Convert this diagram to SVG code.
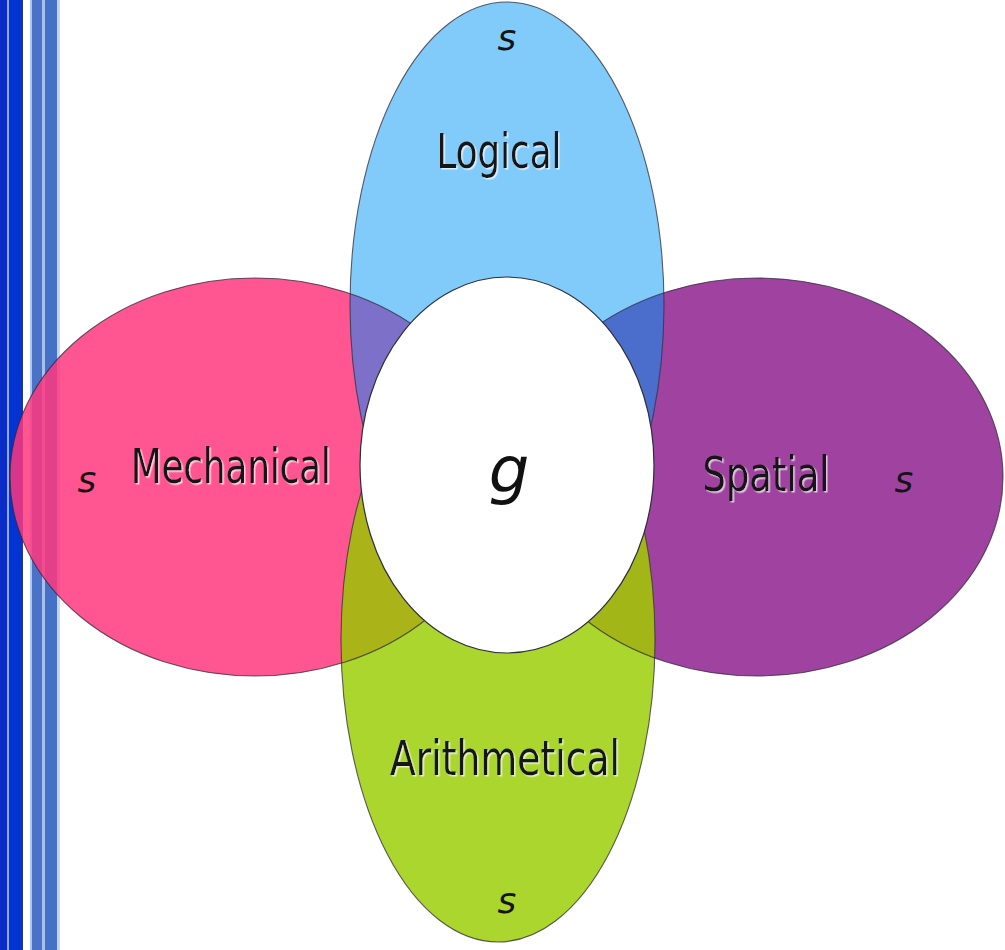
<svg xmlns="http://www.w3.org/2000/svg" width="1005" height="950" viewBox="0 0 1005 950">
<style>
.lbl{font-family:"DejaVu Sans","Liberation Sans",sans-serif;font-size:48px;fill:#141414;text-anchor:middle;filter:url(#sh)}
.s{font-family:"DejaVu Sans","Liberation Sans",sans-serif;font-style:italic;font-size:36px;fill:#141414;text-anchor:middle}
.edge{fill:none;stroke:#2e2a3a;stroke-width:1.1;stroke-opacity:0.75}
</style>
<defs>
<filter id="sh" x="-10%" y="-20%" width="130%" height="150%">
<feDropShadow dx="1.5" dy="1.5" stdDeviation="0.6" flood-color="#ffffff" flood-opacity="0.7"/>
</filter>
<clipPath id="clipBlue"><ellipse cx="507" cy="305" rx="157" ry="303"/></clipPath>
<clipPath id="clipGreen"><ellipse cx="498" cy="640" rx="157" ry="302"/></clipPath>
</defs>
<rect width="1005" height="950" fill="#ffffff"/>
<g id="stripes">
<rect x="0" y="0" width="7" height="950" fill="#0a2cc6"/>
<rect x="7" y="0" width="2" height="950" fill="#8fa8f0"/>
<rect x="9" y="0" width="13" height="950" fill="#0333d0"/>
<rect x="22" y="0" width="1" height="950" fill="#2a3a8a"/>
<rect x="30" y="0" width="2" height="950" fill="#b0c4f0"/>
<rect x="32" y="0" width="10" height="950" fill="#4a72c6"/>
<rect x="42" y="0" width="3" height="950" fill="#a8bff0"/>
<rect x="45" y="0" width="12" height="950" fill="#4570c8"/>
<rect x="57" y="0" width="3" height="950" fill="#c4d4f6"/>
</g>
<g id="mechanical">
<ellipse cx="255" cy="477" rx="245" ry="199" fill="#ff377e" fill-opacity="0.85"/>
</g>
<g id="spatial">
<ellipse cx="757" cy="477" rx="246" ry="199" fill="#a043a0"/>
</g>
<g id="logical">
<ellipse cx="507" cy="305" rx="157" ry="303" fill="#80cbfa"/>
</g>
<g id="arithmetical">
<ellipse cx="498" cy="640" rx="157" ry="302" fill="#aad62d"/>
</g>
<g id="overlaps">
<ellipse cx="255" cy="477" rx="245" ry="199" fill="#7c70c8" clip-path="url(#clipBlue)"/>
<ellipse cx="757" cy="477" rx="246" ry="199" fill="#4b6dcb" clip-path="url(#clipBlue)"/>
<ellipse cx="255" cy="477" rx="245" ry="199" fill="#aab418" clip-path="url(#clipGreen)"/>
<ellipse cx="757" cy="477" rx="246" ry="199" fill="#a2b617" clip-path="url(#clipGreen)"/>
</g>
<g id="edges">
<ellipse class="edge" cx="255" cy="477" rx="245" ry="199"/>
<ellipse class="edge" cx="757" cy="477" rx="246" ry="199"/>
<ellipse class="edge" cx="507" cy="305" rx="157" ry="303"/>
<ellipse class="edge" cx="498" cy="640" rx="157" ry="302"/>
</g>
<g id="g-core">
<ellipse cx="507" cy="465" rx="147" ry="188" fill="#ffffff" stroke="#2e2e3a" stroke-width="1.2"/>
<text x="509" y="492" font-family="DejaVu Sans, sans-serif" font-style="italic" font-size="64" fill="#111" text-anchor="middle">g</text>
</g>
<g id="labels">
<text class="lbl" x="499" y="168" textLength="125" lengthAdjust="spacingAndGlyphs">Logical</text>
<text class="lbl" x="231" y="483" textLength="200" lengthAdjust="spacingAndGlyphs">Mechanical</text>
<text class="lbl" x="766" y="491" textLength="127" lengthAdjust="spacingAndGlyphs">Spatial</text>
<text class="lbl" x="505" y="775" textLength="230" lengthAdjust="spacingAndGlyphs">Arithmetical</text>
<text class="s" x="507" y="50">s</text>
<text class="s" x="87" y="492">s</text>
<text class="s" x="904" y="492">s</text>
<text class="s" x="507" y="913">s</text>
</g>
</svg>
